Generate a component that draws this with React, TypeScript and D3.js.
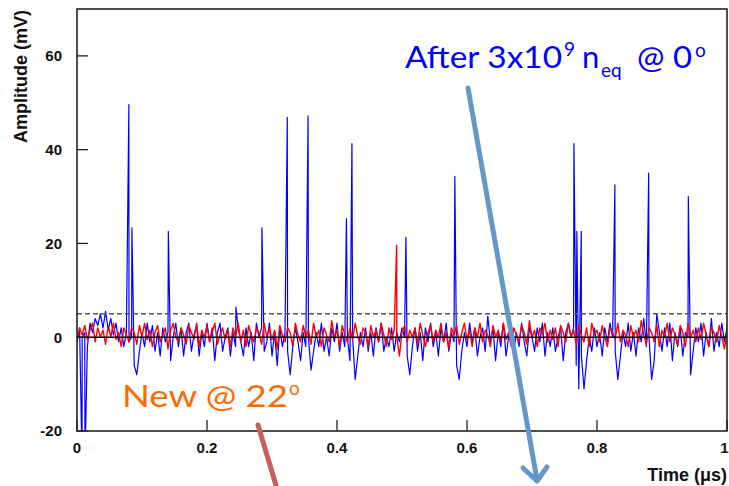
import React from "react";
import * as d3 from "d3";

// Sampling step of the baseline waveforms (µs)
const STEP = 0.004;

// Blue trace: irradiated sensor, baseline samples every STEP µs
const BLUE_BASE = [
  -1, 2, 0, 1, -2, 3, 1, 4, 2.5, 5,
  2, 5.5, 1.5, 4, 0.5, 3, -1, 2, -2, 1,
  -1, 0, -6, -8, -3, 1, -2, 3, -1, 2.5,
  -3, 1, -4, 2, -1, 1, -5, 0, 3, -2,
  2, -4, 1, 3, -3, 0.5, 2.5, -4, 1, -2,
  3, -1, 2, -5, 1, 3, -3, 0, 2, -4,
  1, -2, 2, -1, -4, 2, -2, 1, -5, 3,
  0, 2, -3, -1, 3, -4, 1, -6, 2, -2,
  1, -3, -8, -2, 2, -1, -5, 1, -2, 0,
  -7, -3, 1, -2, 3, -3, 0, -4, 2, -1,
  3, -3, 1, -2, 0, -5, 0, -9, -4, 1,
  -2, 2, -3, 1, -4, 2, -1, 3, -3, 0,
  -2, 2, -3, 1, -1, 2, 0, -4, -8, -2,
  2, -3, 1, -5, 2, -1, 3, -2, 1, -4,
  2, -1, 3, -3, 1, -1, -6, -9, -3, 1,
  -2, 3, -1, 2, -4, 0, 2, -3, 4.5, -1,
  2, -5, 1, -2, 3, -4, 0, 2, -3, 1,
  -2, 3, -1, -4, 2, 0, -3, 2, -1, 3,
  -4, 1, -2, 2, -3, 0, 2, -5, 1, 3,
  0, 2, -6, -11, -4, -11, -5, 0, -3, 2,
  -2, 1, -4, 2, -1, 3, 0, -3, -9, -4,
  1, -2, 3, -3, 1, -4, 2, -1, 4, -2,
  0, -9, -5, 5, 1, -3, 2, -2, 3, -5,
  1, -2, 2, -4, 1, 0, -8, -3, 2, -1,
  3, -4, 1, -2, 4, -3, 1, -2, 3, -1,
  2,
];

// Blue trace: individual pulses [time µs, amplitude mV]
const BLUE_PULSES: [number, number][] = [
  [0.0077, -26], [0.0123, -26],
  [0.0798, 49.6], [0.0845, 23.3], [0.1405, 22.6], [0.2445, 6.4],
  [0.2845, 23.3], [0.3235, 46.9], [0.3555, 47.2], [0.4145, 25.3],
  [0.423, 41.3], [0.506, 21.3], [0.5813, 34.3], [0.7645, 41.3],
  [0.769, 22.6], [0.7758, 22.6], [0.826, 18.5], [0.8275, 32.5],
  [0.8795, 35], [0.9405, 30],
];

// Red trace: new sensor, baseline samples every STEP µs
const RED_BASE = [
  -1, 2, 0.5, 2.5, -0.5, 1.5, 3, -1, 2, 0,
  1.5, -1.5, 2.5, 0, 3, -0.5, 1, -2, 2, 0.5,
  -1, 2, 1, -1.5, 2.5, 0, 3, -0.5, 1.5, -2,
  1, 2.5, -1, 0.5, 2, -2.5, 1.5, 3, 0, -1,
  2, 0.5, -1.5, 2.5, 1, -0.5, 3, -2, 1.5, 0,
  2.5, -1, 1, 3, -1.5, 0.5, 2, -0.5, 1.5, -2,
  2, 0, 3, -1, 1.5, -2, 2.5, 0.5, -1, 2,
  1, -1.5, 3, 0, 2, -0.5, 1.5, -2.5, 2.5, 0.5,
  -1, 2, 1, -2, 3, 0.5, -1, 2.5, 0, 1.5,
  -1.5, 3, 0, 1.5, -2, 2, 0.5, -1, 3.5, 0,
  1.5, -2, 2.5, 0.5, -1, 2, -0.5, 3, 0, -1.5,
  2, 1, -2, 2.5, 0, 1.5, -1, 3, 0.5, -2,
  2, -0.5, 1.5, 0, -4, 1, 2.5, -1, 1.5, 0,
  2, -1.5, 3, 0.5, -2, 1, 2.5, -1, 1.5, 0,
  3, -1, 1, -2.5, 2, 0.5, 2.5, -1.5, 1, 3,
  -0.5, 1.5, -2, 2, 0, 3, -1, 1.5, 0.5, -2,
  2.5, 0, 1.5, -1, 3, -0.5, 1, -2, 2, 0.5,
  -1, 2.5, 1, -1.5, 3.5, 0, 1.5, -2, 2, 0.5,
  3, -1, 1.5, -0.5, 2, -2, 2.5, 1, -1, 3,
  0, 1.5, -1.5, 2.5, 0.5, -1, 2, -2, 3, 0.5,
  1.5, -1, 2.5, 0, -2, 2, 1, -0.5, 3, -1,
  1.5, 0.5, -2, 2.5, 0, 1.5, -1, 3.5, 0.5, -1.5,
  2, 1, -1, 2.5, -2, 1.5, 0, 3, -1, 2,
  0.5, -1.5, 2.5, 1, -2, 3, 0, 1.5, -1, 2,
  -0.5, 3, 0.5, -2, 2, 1, -1, 2.5, 0, -2.5,
  1,
];

// Red trace: individual pulses [time µs, amplitude mV]
const RED_PULSES: [number, number][] = [[0.4918, 19.6]];

const X_TICKS = [0, 0.2, 0.4, 0.6, 0.8, 1];
const Y_TICKS = [-20, 0, 20, 40, 60];
const THRESHOLD = 5;

type Pt = { t: number; v: number };

function buildSeries(base: number[], pulses: [number, number][]): Pt[] {
  const pts: Pt[] = base.map((v, i) => ({ t: i * STEP, v }));
  pulses.forEach(([t, v]) => pts.push({ t, v }));
  return pts.sort((a, b) => a.t - b.t);
}

const W = 729;
const H = 486;
const M = { left: 77, right: 727, top: 9, bottom: 431 };

export default function App() {
  const x = d3.scaleLinear().domain([0, 1]).range([M.left, M.right]);
  const y = d3.scaleLinear().domain([-20, 70]).range([M.bottom, M.top]);
  const line = d3
    .line<Pt>()
    .x((d) => x(d.t))
    .y((d) => y(d.v));

  const blue = buildSeries(BLUE_BASE, BLUE_PULSES);
  const red = buildSeries(RED_BASE, RED_PULSES);

  const axisFont = "'Liberation Sans', Arial, Helvetica, sans-serif";
  const noteFont = "Lato, 'Open Sans', sans-serif";

  return (
    <svg
      width={W}
      height={H}
      style={{ position: "absolute", left: 0, top: 0, background: "#fff" }}
      fontFamily={axisFont}
    >
      <defs>
        <clipPath id="plot-area">
          <rect x={M.left} y={M.top} width={M.right - M.left} height={M.bottom - M.top} />
        </clipPath>
        <clipPath id="page">
          <rect x={0} y={0} width={W} height={H} />
        </clipPath>
      </defs>

      <g clipPath="url(#plot-area)">
        <path d={line(blue) ?? ""} fill="none" stroke="#0000ff" strokeWidth={1.2} strokeLinejoin="round" />
        <path d={line(red) ?? ""} fill="none" stroke="#ff0000" strokeWidth={1.4} strokeLinejoin="round" />
        <line x1={M.left} x2={M.right} y1={y(0)} y2={y(0)} stroke="#000" strokeWidth={1.4} />
        <line
          x1={M.left}
          x2={M.right}
          y1={y(THRESHOLD)}
          y2={y(THRESHOLD)}
          stroke="#555"
          strokeWidth={1.6}
          strokeDasharray="5,3"
        />
      </g>

      {/* frame */}
      <rect
        x={M.left}
        y={M.top}
        width={M.right - M.left}
        height={M.bottom - M.top}
        fill="none"
        stroke="#222"
        strokeWidth={1.6}
      />

      {/* y axis */}
      {Y_TICKS.map((v) => (
        <g key={"y" + v}>
          <line x1={M.left} x2={M.left + 11} y1={y(v)} y2={y(v)} stroke="#222" strokeWidth={1.3} />
          <text
            x={M.left - 15}
            y={y(v)}
            dy="0.36em"
            textAnchor="end"
            fontSize={15}
            fontWeight="bold"
            fill="#111"
          >
            {String(v)}
          </text>
        </g>
      ))}

      {/* x axis */}
      {X_TICKS.map((v, i) => {
        const last = i === X_TICKS.length - 1;
        return (
          <g key={"x" + v}>
            <line x1={x(v)} x2={x(v)} y1={M.bottom} y2={M.bottom - 11} stroke="#222" strokeWidth={1.3} />
            <text
              x={last ? W - 0.5 : x(v)}
              y={453}
              textAnchor={last ? "end" : "middle"}
              fontSize={15}
              fontWeight="bold"
              fill="#111"
            >
              {String(v)}
            </text>
          </g>
        );
      })}

      <text
        transform="translate(27,10) rotate(-90)"
        textAnchor="end"
        fontSize={18}
        fontWeight="bold"
        fill="#111"
      >
        Amplitude (mV)
      </text>
      <text x={727} y={481} textAnchor="end" fontSize={18} fontWeight="bold" fill="#111">
        Time (μs)
      </text>

      {/* annotations */}
      <text fontFamily={noteFont} fill="#0000ff" fontSize={31}>
        <tspan x={405} y={68} textLength={157} lengthAdjust="spacingAndGlyphs">After 3x10</tspan>
        <tspan x={564} y={56} fontSize={19}>9</tspan>
        <tspan x={582} y={68}>n</tspan>
        <tspan x={601} y={77} fontSize={19}>eq</tspan>
        <tspan x={637} y={68} textLength={55} lengthAdjust="spacingAndGlyphs">@ 0</tspan>
        <tspan x={695} y={57} fontSize={19}>o</tspan>
      </text>

      <text fontFamily={noteFont} fill="#ff6a00" fontSize={31}>
        <tspan x={122} y={407} textLength={166} lengthAdjust="spacingAndGlyphs">New @ 22</tspan>
        <tspan x={289} y={395} fontSize={19}>o</tspan>
      </text>

      <g clipPath="url(#page)" fill="none" strokeLinecap="round" strokeLinejoin="round">
        <line x1={468} y1={88} x2={537} y2={480} stroke="#6497cb" strokeWidth={5} />
        <polyline points="523,468 537,481 547,467" stroke="#6497cb" strokeWidth={5} />
        <line x1={258} y1={425} x2={278} y2={492} stroke="#c8605a" strokeWidth={5} />
      </g>
    </svg>
  );
}
